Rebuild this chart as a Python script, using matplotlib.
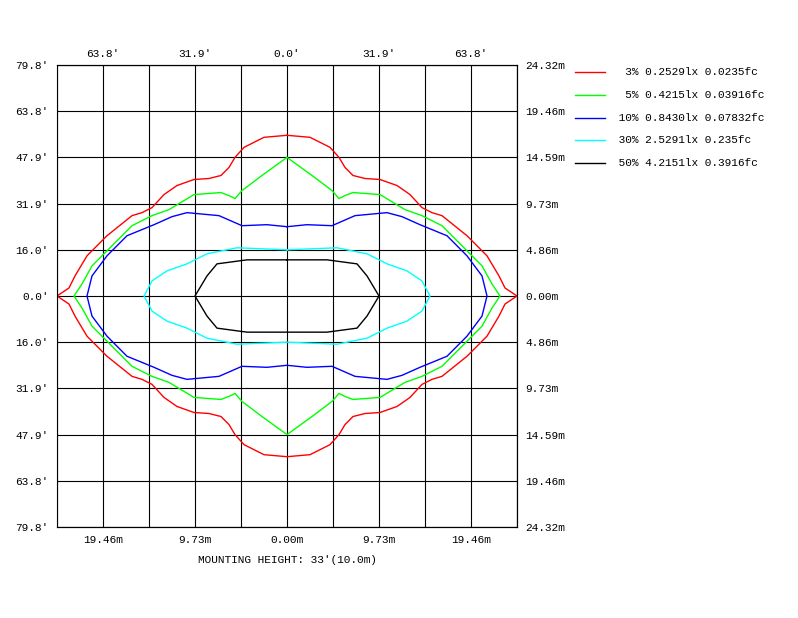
import matplotlib.pyplot as plt
from matplotlib.lines import Line2D
import numpy as np

plt.rcParams['font.family'] = ['Liberation Mono', 'DejaVu Sans Mono']

CELL_PX = 46.0
CELL_M = 4.865

# right-upper quadrant of each isoline, (dx, dy) in grid pixels
iso_pts = {
    'red':   [(0, 160), (23, 158), (43, 148), (52, 138), (58, 128), (66, 120), (78, 117),
              (93, 116), (110, 110), (123, 101), (135, 88), (145, 83), (155, 80),
              (180, 60), (200, 40), (212, 20), (218, 8), (230, 0)],
    'lime':  [(0, 138), (25, 120), (45, 105), (52, 97), (58, 100), (66, 103), (93, 101),
              (118, 86), (135, 80), (155, 70), (175, 50), (195, 30), (205, 12), (213, 0)],
    'blue':  [(0, 69), (20, 71), (45, 70), (68, 80), (100, 83), (115, 79), (133, 71),
              (160, 60), (180, 40), (195, 20), (200, 0)],
    'cyan':  [(0, 46), (50, 48), (80, 42), (100, 32), (120, 25), (135, 15), (143, 0)],
    'black': [(0, 36), (40, 36), (70, 32), (80, 20), (92, 0)],
}
legend_labels = ["  3% 0.2529lx 0.0235fc", "  5% 0.4215lx 0.03916fc",
                 " 10% 0.8430lx 0.07832fc", " 30% 2.5291lx 0.235fc",
                 " 50% 4.2151lx 0.3916fc"]
left_labels = ["79.8'", "63.8'", "47.9'", "31.9'", "16.0'", "0.0'",
               "16.0'", "31.9'", "47.9'", "63.8'", "79.8'"]
right_labels = ["24.32m", "19.46m", "14.59m", "9.73m", "4.86m", "0.00m",
                "4.86m", "9.73m", "14.59m", "19.46m", "24.32m"]
top_labels = ["63.8'", "31.9'", "0.0'", "31.9'", "63.8'"]
bottom_labels = ["19.46m", "9.73m", "0.00m", "9.73m", "19.46m"]

fig = plt.figure(figsize=(7.98, 6.18), dpi=100)
ax = fig.add_axes([57 / 798, 91 / 618, 460 / 798, 462 / 618])
lim = 5 * CELL_M
ax.set_xlim(-lim, lim)
ax.set_ylim(-lim, lim)
grid = np.arange(-5, 6) * CELL_M
ax.set_xticks(grid)
ax.set_yticks(grid)
ax.grid(True, color='black', linewidth=0.8)
ax.set_yticklabels(left_labels[::-1], fontsize=8)
ax.set_xticklabels([])
ax.tick_params(length=0, pad=6)
for s in ax.spines.values():
    s.set_linewidth(0.8)

sec_r = ax.secondary_yaxis('right')
sec_r.set_yticks(grid)
sec_r.set_yticklabels(right_labels[::-1], fontsize=8)
sec_r.tick_params(length=0, pad=6)
sec_t = ax.secondary_xaxis('top')
sec_t.set_xticks(np.array([-4, -2, 0, 2, 4]) * CELL_M)
sec_t.set_xticklabels(top_labels, fontsize=8)
sec_t.tick_params(length=0, pad=4)
sec_b = ax.secondary_xaxis('bottom')
sec_b.set_xticks(np.array([-4, -2, 0, 2, 4]) * CELL_M)
sec_b.set_xticklabels(bottom_labels, fontsize=8)
sec_b.tick_params(length=0, pad=6)
ax.set_xlabel("MOUNTING HEIGHT: 33'(10.0m)", fontsize=8, labelpad=14)

for color, pts in iso_pts.items():
    p = np.array(pts, dtype=float) * CELL_M / CELL_PX
    xr, yr = p[:, 0], p[:, 1]
    # go around: right upper, right lower, left lower, left upper
    x = np.concatenate([xr, xr[::-1], -xr, -xr[::-1]])
    y = np.concatenate([yr, -yr[::-1], -yr, yr[::-1]])
    ax.plot(x, y, color=color, linewidth=1)

for i, (color, lab) in enumerate(zip(iso_pts.keys(), legend_labels)):
    yy = 1 - (72 + i * 22.8) / 618
    fig.add_artist(Line2D([575 / 798, 605 / 798], [yy, yy], color=color, linewidth=1))
    fig.text(612 / 798, yy, lab, fontsize=8, va='center')

fig.savefig('out.png', dpi=100)
